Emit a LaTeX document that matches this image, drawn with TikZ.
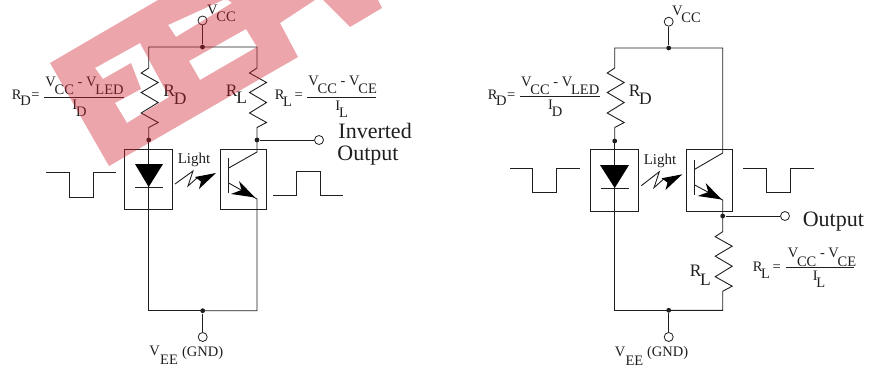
\documentclass[tikz,border=0pt]{standalone}
\usepackage{fontspec}
\setmainfont{Liberation Serif}
\usetikzlibrary{arrows}
\newcommand{\drop}[2][7.5pt]{\kern-1.2pt\raisebox{-#1}{#2}}
\newcommand{\zigres}{-- ++(-7.5,5) -- ++(17,9.5) -- ++(-17,10) -- ++(17,10) -- ++(-17,10.5) -- ++(17,9.5) -- ++(-9.5,5)}
\definecolor{wmark}{RGB}{204,30,44}
\definecolor{wire}{gray}{0.12}
\tikzset{
    dot/.style = {circle, fill = wire, inner sep = 0pt, minimum size = 4.8pt},
    term/.style = {circle, draw = wire, line width = 0.8pt, inner sep = 0pt, minimum size = 9pt},
    chip/.style = {draw = wire, line width = 0.8pt, inner sep = 0pt, anchor = north west},
    txt/.style = {anchor = base west, inner sep = 0pt, text = wire, font = \fontsize{14.5}{14.5}\selectfont},
    rlab/.style = {txt, font = \fontsize{17.5}{17.5}\selectfont},
    outlab/.style = {txt, font = \fontsize{22}{22}\selectfont}
}
\begin{document}
\begin{tikzpicture}[x=1pt, y=-1pt, line width=0.9pt, wire/.style={draw=wire}]
\useasboundingbox (0,0) rectangle (869,367);

% left circuit
\node[term] (lvcc) at (202.5,20.5) {};
\node[dot] (ltop) at (202.5,47) {};
\node[dot] (lrdend) at (148.7,140) {};
\node[dot] (lcol) at (257,140) {};
\node[term] (lout) at (319,140) {};
\node[dot] (lbot) at (202.7,310.7) {};
\node[term] (lvee) at (202.7,337) {};
\node[chip, minimum width=48pt, minimum height=60pt] (lled) at (124,149) {};
\node[chip, minimum width=46pt, minimum height=60pt] (ltr) at (220,149) {};
\draw[wire] (lvcc) -- (ltop);
\draw[wire] (ltop.center) -- (148.7,47) -- (148.7,68) \zigres -- (lrdend.center);
\draw[wire] (ltop.center) -- (257,47) -- (257,68) \zigres -- (lcol.center);
\draw[wire] (lcol) -- (lout);
\draw[wire] (lrdend.center) -- (148.7,310.7) -- (lbot.center);
\draw[wire] (lbot.center) -- (257,310.7) -- (257,199) -- (228.7,183);
\draw[wire] (lbot) -- (lvee);
\draw[wire] (lcol.center) -- (257,152) -- (228.7,168);
\draw[wire] (228.7,158) -- (228.7,193);
\fill[black] (135,164) -- (163,164) -- (148.7,187) -- cycle;
\draw[wire] (135,187) -- (163,187);
\fill[black] (255,197.5) -- (239,181) -- (241.5,190) -- (231,194) -- cycle;
\draw[wire] (175,184) -- (193,171) -- (188,186) -- (197,178);
\fill[black] (216,173) -- (195,177) -- (201,181.5) -- (199,189) -- cycle;
\draw[wire] (46,172) -- (69,172) -- (69,197) -- (93,197) -- (93,172) -- (116,172);
\draw[wire] (273,195) -- (296,195) -- (296,171) -- (320,171) -- (320,195) -- (343,195);

% left labels
\node[txt] (lvcct) at (206.7,14) {V\drop{CC}};
\node[txt] (lrdf) at (11.5,99) {R\drop[6.5pt]{D}\kern0.5pt=};
\node[txt] (lrdn) at (45,86) {V\drop[8.5pt]{CC} - V\drop[8.5pt]{LED}};
\node[txt] (lrdd) at (72,109) {I\drop{D}};
\coordinate (lrda) at (44,97);
\coordinate (lrdb) at (124,97);
\draw[wire] (lrda) -- (lrdb);
\node[rlab] (lrd) at (163,96) {R\drop[8pt]{D}};
\node[rlab] (lrl) at (225.5,96) {R\drop[7.5pt]{L}};
\node[txt] (lrlf) at (274.3,99) {R\drop{L}\kern2.5pt=};
\node[txt] (lrln) at (308,85) {V\drop[8.5pt]{CC} - V\drop[8.5pt]{CE}};
\node[txt] (lrld) at (335,110) {I\drop{L}};
\coordinate (lrla) at (307,97);
\coordinate (lrlb) at (376,97);
\draw[wire] (lrla) -- (lrlb);
\node[outlab] (linv) at (338,138.5) {Inverted};
\node[outlab] (lopt) at (337,160) {Output};
\node[txt, font=\fontsize{15}{15}\selectfont] (llight) at (177.3,163) {Light};
\node[txt] (lveet) at (149,355) {V\kern1.5pt\drop[9pt]{EE}};
\node[txt] (lgnd) at (181.7,356) {(GND)};

% right circuit
\node[term] (rvcc) at (668.7,21.7) {};
\node[dot] (rtop) at (668.7,48) {};
\node[dot] (rrdend) at (614.7,141) {};
\node[dot] (remit) at (722.7,216) {};
\node[term] (rout) at (785,216) {};
\node[dot] (rbot) at (668.7,310.3) {};
\node[term] (rvee) at (668.7,337) {};
\node[chip, minimum width=47.4pt, minimum height=61.4pt] (rled) at (590.3,149.3) {};
\node[chip, minimum width=46pt, minimum height=61.4pt] (rtr) at (685.7,149.3) {};
\draw[wire] (rvcc) -- (rtop);
\draw[wire] (rtop.center) -- (614.7,48) -- (614.7,68) \zigres -- (rrdend.center);
\draw[wire] (rtop.center) -- (722.7,48) -- (722.7,153) -- (694.7,169.3);
\draw[wire] (rrdend.center) -- (614.7,310.3) -- (rbot.center);
\draw[wire] (remit.center) -- (722.7,200) -- (694.7,185);
\draw[wire] (remit.center) -- (722.7,231.7) \zigres -- (722.7,310.3) -- (rbot.center);
\draw[wire] (remit) -- (rout);
\draw[wire] (rbot) -- (rvee);
\draw[wire] (694.7,160) -- (694.7,195);
\fill[black] (600,165) -- (629,165) -- (614.7,188) -- cycle;
\draw[wire] (600.7,188) -- (628.7,188);
\fill[black] (721.7,199.5) -- (705.7,183) -- (708.3,192) -- (697.7,196) -- cycle;
\draw[wire] (641.3,185.7) -- (659.3,171.7) -- (654,187.7) -- (663.3,179.3);
\fill[black] (682.3,174.3) -- (661.5,178.3) -- (667.5,182.5) -- (665.5,190) -- cycle;
\draw[wire] (510,168.3) -- (532.7,168.3) -- (532.7,192.7) -- (556.7,192.7) -- (556.7,168.3) -- (580,168.3);
\draw[wire] (743.3,168.3) -- (766.7,168.3) -- (766.7,192.3) -- (790.7,192.3) -- (790.7,168.3) -- (814,168.3);

% right labels
\node[txt] (rvcct) at (671.7,15) {V\drop{CC}};
\node[txt] (rrdf) at (487.3,99.3) {R\drop[6.5pt]{D}\kern0.5pt=};
\node[txt] (rrdn) at (520.7,86) {V\drop[8.5pt]{CC} - V\drop[8.5pt]{LED}};
\node[txt] (rrdd) at (547.7,109.3) {I\drop{D}};
\coordinate (rrda) at (520,96.5);
\coordinate (rrdb) at (600,96.5);
\draw[wire] (rrda) -- (rrdb);
\node[rlab] (rrd) at (628.3,96.7) {R\drop[8pt]{D}};
\node[rlab] (rrl) at (689.3,276) {R\drop[9.5pt]{L}};
\node[txt] (rrlf) at (752.3,271) {R\drop{L}\kern2.5pt=};
\node[txt] (rrln) at (787.3,257.7) {V\drop[8.5pt]{CC} - V\drop[8.5pt]{CE}};
\node[txt] (rrld) at (812.3,280) {I\drop{L}};
\coordinate (rrla) at (786,267.3);
\coordinate (rrlb) at (854,267.3);
\draw[wire] (rrla) -- (rrlb);
\node[outlab] (ropt) at (802.3,226) {Output};
\node[txt, font=\fontsize{15}{15}\selectfont] (rlight) at (643.3,164) {Light};
\node[txt] (rveet) at (614.3,356) {V\kern1.5pt\drop[9pt]{EE}};
\node[txt] (rgnd) at (646.7,356) {(GND)};

% stamp over the left circuit
\fill[wmark, opacity=0.4, even odd rule]
    (50,63) -- (158,0) -- (315,0) -- (280,23) -- (298,57) -- (109,166) -- cycle
    (95,68) -- (140,43) -- (169,97) -- (127,123) -- (115,103) -- (141,89) -- (131,63) -- (103,79) -- cycle
    (168,25) -- (223,0) -- (228,0) -- (232,3) -- (176,37) -- cycle
    (189,61) -- (246,29) -- (257,47) -- (200,80) -- cycle
    (323,0) -- (350,27) -- (382,8) -- (378,0) -- cycle;
\end{tikzpicture}
\end{document}
